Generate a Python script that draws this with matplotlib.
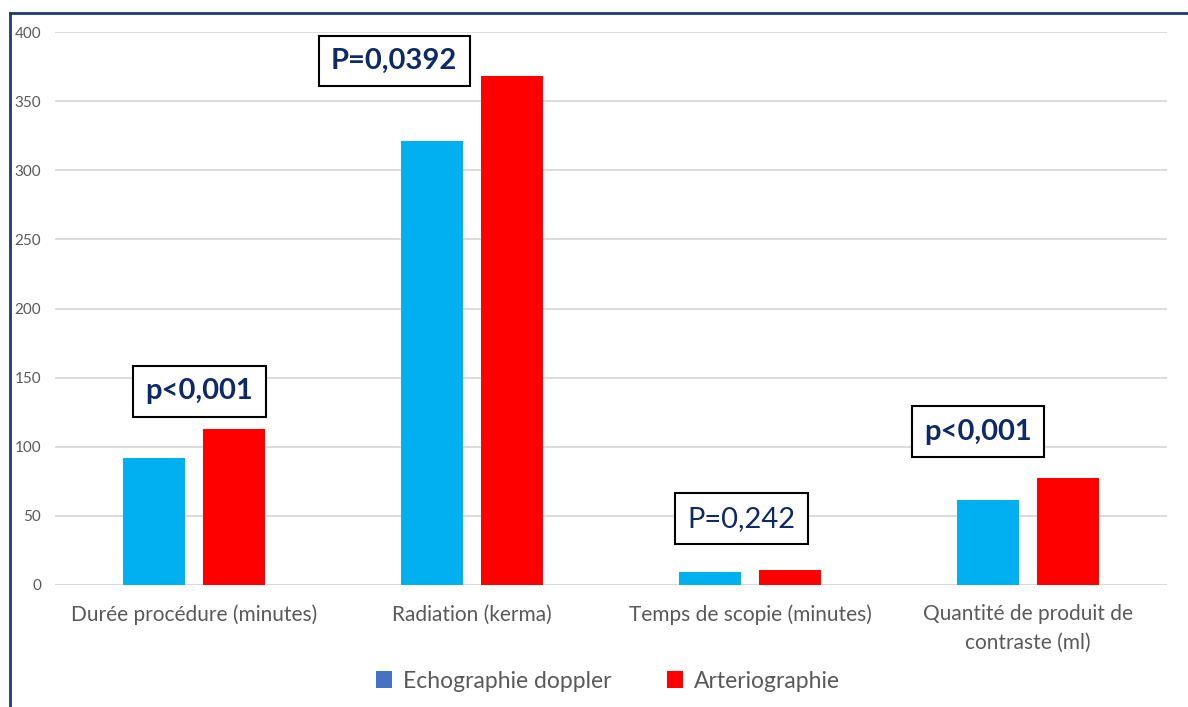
import matplotlib.pyplot as plt
import numpy as np
from matplotlib.patches import Patch
from matplotlib.lines import Line2D

plt.rcParams['font.family'] = ['Lato', 'DejaVu Sans']

# Chart data
categories = ['Durée procédure (minutes)', 'Radiation (kerma)',
              'Temps de scopie (minutes)', 'Quantité de produit de\ncontraste (ml)']
echo_values = [92, 321, 9.5, 61.5]
arterio_values = [113, 368, 11, 77.5]
series_labels = ['Echographie doppler', 'Arteriographie']

# p-value boxes: text, x (category units), y (data units), bold?
p_texts = ['p<0,001', 'P=0,0392', 'P=0,242', 'p<0,001']
p_x = [0.02, 0.72, 1.97, 2.82]
p_y = [140, 379, 48, 111]
p_bold = [True, True, False, True]

bar_color = ['#00B0F0', '#FF0000']
legend_color = ['#4472C4', '#FF0000']
text_grey = '#595959'
navy = '#0D2A66'

fig = plt.figure(figsize=(11.88, 7.07), dpi=100)
W, H = 1188, 707
ax = fig.add_axes([55 / W, 1 - 585 / H, (1167 - 55) / W, (585 - 32) / H])

x_pos = np.arange(len(categories))
width = 0.223  # Width of bars
offset = 0.144
ax.bar(x_pos - offset, echo_values, width, color=bar_color[0], zorder=3)
ax.bar(x_pos + offset, arterio_values, width, color=bar_color[1], zorder=3)

ax.set_xlim(-0.5, len(categories) - 0.5)
ax.set_ylim(0, 400)
ax.set_yticks(np.arange(0, 401, 50))
ax.yaxis.grid(True, color='#D9D9D9', linewidth=1.3, zorder=0)
ax.set_axisbelow(True)
for side in ['top', 'right', 'left', 'bottom']:
    ax.spines[side].set_visible(False)
ax.tick_params(axis='y', length=0, pad=10, labelsize=11, labelcolor=text_grey)
ax.tick_params(axis='x', length=0, pad=14, labelsize=15, labelcolor=text_grey)
ax.set_xticks(x_pos)
ax.set_xticklabels(categories, linespacing=1.5)
for lbl in ax.get_yticklabels():
    lbl.set_horizontalalignment('right')

# Baseline
ax.axhline(0, color='#D9D9D9', linewidth=1.3, zorder=2)

# p-value annotations
for txt, x, y, bold in zip(p_texts, p_x, p_y, p_bold):
    ax.text(x, y, txt, ha='center', va='center', fontsize=21, color=navy,
            fontweight='bold' if bold else 'normal', zorder=5,
            bbox=dict(boxstyle='square,pad=0.42', facecolor='white',
                      edgecolor='black', linewidth=1.5))

# Legend
handles = [Patch(facecolor=legend_color[0], label=series_labels[0]),
           Patch(facecolor=legend_color[1], label=series_labels[1])]
fig.legend(handles=handles, loc='center', bbox_to_anchor=(608 / W, 1 - 681 / H),
           ncol=2, frameon=False, fontsize=16.5, handlelength=0.7, handleheight=0.7,
           handletextpad=0.5, columnspacing=2.4, labelcolor=text_grey)

# Outer frame (left and top edges)
fig.add_artist(Line2D([10 / W, 10 / W], [0, 1 - 13 / H], color='#1F3A70', linewidth=2))
fig.add_artist(Line2D([10 / W, 1], [1 - 13 / H, 1 - 13 / H], color='#1F3A70', linewidth=2))

plt.savefig('out.png', dpi=100)
plt.close()
